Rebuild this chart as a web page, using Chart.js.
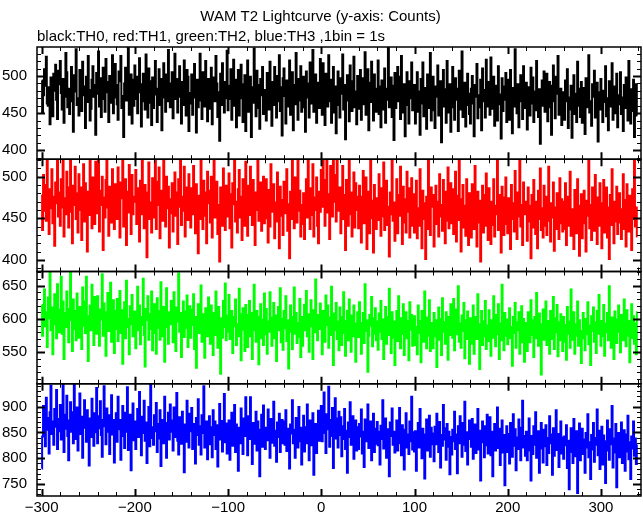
<!DOCTYPE html>
<html>
<head>
<meta charset="utf-8">
<title>WAM T2 Lightcurve</title>
<script src="https://cdn.jsdelivr.net/npm/chart.js@4.4.1/dist/chart.umd.min.js"></script>
<style>
  html, body { margin: 0; padding: 0; background: #fff; }
  #wrap { position: relative; width: 643px; height: 515px; }
</style>
</head>
<body>
<div id="wrap"><canvas id="lc" width="643" height="515"></canvas></div>
<script>
// time axis: 1 bin = 1 s, first bin at -300 s
const tStart = -300;
const binSize = 1;

const xTicks = [-300, -200, -100, 0, 100, 200, 300];
const th0Ticks = [400, 450, 500];
const th1Ticks = [400, 450, 500];
const th2Ticks = [550, 600, 650];
const th3Ticks = [750, 800, 850, 900];

// counts per bin (20 bins per row)
const th0 = [
  494, 451, 474, 509, 487, 526, 463, 460, 485, 435, 498, 491, 446, 503, 480, 515, 468, 442, 507, 489,
  520, 477, 455, 496, 437, 472, 531, 505, 458, 483, 449, 466, 512, 490, 425, 501, 479, 536, 461, 470,
  447, 508, 492, 453, 519, 486, 474, 430, 499, 465, 527, 481, 440, 456, 495, 513, 472, 488, 421, 504,
  476, 533, 459, 497, 445, 469, 511, 484, 452, 523, 478, 492, 438, 500, 464, 483, 528, 450, 471, 516,
  488, 462, 441, 506, 493, 527, 457, 473, 418, 490, 511, 467, 482, 539, 448, 475, 502, 436, 495, 460,
  514, 469, 499, 450, 478, 524, 489, 432, 466, 503, 476, 455, 529, 485, 444, 510, 493, 464, 434, 498,
  457, 491, 520, 475, 438, 483, 509, 461, 496, 427, 471, 517, 488, 452, 502, 466, 535, 480, 458, 490,
  505, 443, 479, 530, 469, 496, 451, 487, 513, 472, 436, 492, 461, 521, 484, 447, 508, 499, 426, 477,
  463, 502, 448, 489, 516, 471, 424, 495, 458, 481, 530, 467, 442, 505, 486, 459, 520, 474, 439, 496,
  482, 456, 511, 435, 473, 498, 466, 527, 490, 445, 478, 413, 503, 461, 517, 484, 451, 492, 470, 534,
  454, 487, 469, 509, 441, 476, 522, 460, 495, 431, 483, 508, 447, 470, 515, 489, 438, 463, 501, 426,
  493, 521, 452, 478, 499, 418, 485, 464, 537, 472, 446, 507, 488, 457, 429, 496, 474, 512, 449, 481,
  468, 440, 504, 487, 455, 519, 476, 433, 492, 461, 512, 479, 444, 500, 466, 528, 453, 485, 420, 497,
  510, 473, 436, 494, 482, 459, 521, 448, 470, 505, 427, 488, 462, 531, 475, 441, 496, 467, 513, 452,
  480, 499, 458, 425, 506, 471, 490, 444, 518, 463, 484, 535, 452, 476, 502, 437, 469, 491, 457, 523,
  490, 448, 517, 472, 434, 503, 481, 459, 528, 466, 495, 437, 478, 512, 451, 486, 423, 470, 506, 461,
  444, 497, 476, 529, 455, 488, 415, 467, 501, 482, 439, 514, 470, 453, 493, 526, 458, 479, 435, 500,
  485, 456, 508, 441, 472, 497, 462, 532, 448, 479, 509, 427, 491, 465, 519, 474, 440, 502, 483, 452,
  470, 521, 449, 486, 431, 494, 476, 455, 510, 437, 483, 468, 539, 458, 473, 498, 445, 487, 414, 504,
  457, 482, 512, 466, 499, 442, 527, 478, 451, 489, 419, 476, 505, 461, 436, 493, 470, 518, 454, 480,
  488, 436, 471, 505, 452, 479, 421, 496, 463, 518, 446, 484, 469, 429, 502, 457, 477, 531, 440, 465,
  499, 454, 430, 486, 472, 514, 447, 462, 493, 411, 476, 508, 459, 482, 437, 520, 466, 451, 489, 425,
  474, 512, 458, 441, 497, 468, 483, 426, 507, 455, 479, 533, 445, 470, 491, 432, 461, 503, 476, 449,
  436, 483, 500, 463, 419, 488, 472, 516, 443, 474, 458, 495, 427, 510, 466, 481, 444, 522, 459, 492,
  481, 448, 525, 470, 456, 499, 433, 466, 487, 440, 513, 462, 475, 416, 497, 453, 486, 468, 504, 438,
  462, 495, 441, 508, 477, 423, 484, 459, 536, 471, 450, 489, 431, 466, 501, 480, 442, 513, 457, 475,
  491, 428, 469, 485, 447, 511, 463, 498, 438, 479, 454, 520, 472, 445, 482, 409, 467, 494, 460, 506,
  452, 477, 503, 439, 468, 492, 458, 421, 487, 514, 466, 443, 499, 476, 527, 448, 461, 483, 434, 470,
  478, 441, 494, 466, 509, 430, 471, 455, 487, 417, 462, 501, 449, 476, 438, 519, 460, 483, 445, 492,
  437, 469, 484, 422, 497, 458, 476, 528, 451, 466, 433, 489, 472, 507, 444, 461, 491, 412, 478, 455,
  496, 457, 438, 480, 465, 513, 446, 470, 427, 493, 459, 482, 517, 441, 468, 486, 450, 503, 431, 474,
  462, 505, 449, 471, 426, 488, 457, 498, 475, 440, 520, 464, 436, 482, 453, 495, 418, 468, 489, 447
];

const th1 = [
  478, 436, 502, 459, 490, 447, 523, 470, 431, 485, 462, 509, 444, 476, 417, 493, 468, 530, 452, 481,
  441, 497, 463, 519, 428, 474, 455, 506, 487, 439, 471, 536, 458, 420, 489, 466, 512, 449, 480, 433,
  503, 460, 487, 424, 472, 515, 446, 492, 468, 410, 482, 454, 527, 477, 438, 499, 461, 443, 518, 469,
  456, 521, 434, 483, 466, 500, 412, 475, 451, 496, 538, 463, 429, 488, 470, 445, 509, 478, 437, 491,
  484, 449, 511, 468, 427, 493, 474, 532, 440, 461, 497, 418, 482, 457, 514, 466, 431, 502, 455, 476,
  470, 508, 443, 486, 461, 422, 495, 455, 526, 474, 438, 490, 465, 403, 481, 517, 449, 469, 433, 498,
  451, 477, 529, 437, 494, 466, 511, 426, 458, 483, 447, 519, 471, 440, 500, 462, 488, 415, 473, 456,
  492, 434, 468, 505, 453, 481, 419, 497, 464, 535, 442, 476, 459, 512, 428, 487, 470, 448, 503, 461,
  439, 486, 455, 513, 470, 432, 491, 462, 408, 477, 449, 523, 466, 437, 495, 453, 481, 420, 506, 468,
  483, 445, 500, 427, 462, 519, 451, 474, 494, 431, 466, 398, 487, 458, 441, 510, 472, 436, 489, 452,
  461, 504, 438, 479, 415, 492, 467, 527, 446, 470, 433, 485, 508, 451, 476, 424, 497, 459, 441, 518,
  476, 429, 489, 454, 512, 466, 442, 496, 470, 418, 481, 460, 535, 447, 472, 493, 435, 457, 500, 444,
  450, 497, 463, 421, 484, 440, 515, 474, 458, 491, 426, 469, 446, 505, 480, 414, 488, 453, 472, 430,
  494, 456, 477, 509, 435, 467, 402, 482, 449, 520, 461, 438, 499, 473, 445, 527, 459, 483, 428, 466,
  443, 480, 425, 462, 497, 451, 531, 469, 437, 486, 454, 515, 428, 475, 460, 499, 441, 420, 482, 458,
  508, 464, 528, 483, 441, 496, 537, 457, 479, 425, 513, 488, 452, 531, 470, 502, 446, 522, 476, 459,
  487, 432, 470, 513, 449, 478, 412, 496, 463, 441, 524, 455, 481, 428, 467, 505, 439, 492, 460, 476,
  438, 489, 455, 421, 476, 507, 444, 466, 499, 413, 461, 482, 432, 519, 450, 471, 409, 490, 458, 437,
  474, 448, 503, 461, 429, 486, 452, 517, 436, 470, 495, 442, 464, 404, 481, 455, 526, 447, 469, 423,
  460, 497, 432, 478, 453, 512, 467, 419, 488, 445, 473, 433, 506, 458, 486, 427, 463, 498, 441, 479,
  433, 471, 495, 426, 462, 441, 509, 457, 414, 483, 449, 468, 401, 476, 437, 521, 455, 430, 487, 464,
  478, 416, 459, 489, 443, 470, 428, 503, 452, 466, 435, 496, 461, 420, 482, 447, 511, 438, 458, 492,
  444, 485, 431, 467, 506, 422, 477, 448, 524, 456, 410, 473, 490, 439, 465, 429, 497, 452, 418, 480,
  466, 427, 491, 453, 437, 513, 460, 416, 482, 445, 471, 398, 456, 489, 433, 478, 441, 504, 462, 424,
  486, 451, 419, 470, 442, 497, 428, 465, 455, 520, 436, 478, 447, 409, 488, 461, 430, 475, 499, 443,
  432, 474, 457, 413, 490, 449, 468, 434, 507, 461, 425, 481, 452, 529, 440, 466, 418, 493, 455, 470,
  458, 423, 487, 446, 465, 402, 478, 439, 496, 455, 431, 470, 414, 483, 449, 510, 436, 462, 427, 489,
  441, 476, 430, 459, 512, 447, 422, 468, 451, 493, 411, 463, 437, 480, 455, 425, 498, 444, 473, 434,
  470, 437, 492, 418, 455, 476, 441, 506, 429, 461, 448, 413, 484, 452, 432, 497, 465, 405, 447, 479,
  426, 458, 483, 444, 410, 471, 453, 519, 438, 466, 424, 487, 449, 435, 502, 459, 419, 475, 441, 492,
  455, 414, 468, 496, 433, 451, 487, 427, 463, 401, 478, 442, 509, 456, 420, 470, 446, 488, 431, 462,
  480, 445, 425, 461, 503, 437, 472, 416, 491, 452, 434, 477, 458, 412, 485, 449, 526, 440, 463, 428
];

const th2 = [
  621, 575, 598, 644, 589, 610, 558, 632, 601, 669, 583, 617, 547, 605, 637, 592, 571, 652, 614, 580,
  596, 663, 578, 626, 540, 609, 588, 641, 615, 565, 598, 671, 603, 552, 629, 585, 612, 568, 638, 593,
  572, 618, 601, 555, 647, 590, 626, 579, 663, 604, 537, 592, 620, 583, 651, 608, 561, 633, 597, 578,
  634, 586, 560, 614, 599, 667, 575, 623, 591, 545, 610, 639, 582, 603, 654, 566, 596, 628, 549, 612,
  585, 630, 567, 604, 642, 579, 613, 533, 595, 625, 571, 657, 600, 588, 547, 619, 592, 636, 574, 609,
  611, 556, 597, 648, 583, 620, 562, 603, 591, 660, 576, 529, 615, 598, 634, 569, 607, 585, 641, 553,
  579, 622, 601, 548, 631, 587, 612, 569, 655, 594, 574, 618, 536, 603, 646, 588, 563, 610, 592, 627,
  604, 565, 640, 589, 552, 617, 596, 668, 581, 609, 543, 598, 626, 573, 611, 587, 635, 558, 600, 619,
  572, 614, 591, 637, 555, 603, 527, 586, 622, 579, 598, 650, 566, 607, 583, 542, 616, 595, 574, 632,
  599, 563, 620, 584, 546, 609, 576, 641, 593, 557, 618, 590, 518, 601, 572, 627, 588, 653, 568, 605,
  581, 636, 570, 597, 612, 549, 603, 589, 629, 561, 592, 574, 645, 607, 538, 584, 616, 596, 552, 621,
  606, 558, 593, 627, 574, 609, 540, 583, 651, 596, 566, 612, 587, 532, 603, 622, 571, 599, 561, 638,
  577, 615, 548, 596, 581, 640, 602, 560, 589, 624, 571, 605, 537, 592, 618, 583, 646, 565, 600, 554,
  612, 586, 634, 567, 598, 526, 581, 620, 603, 555, 590, 647, 578, 609, 564, 594, 573, 630, 543, 603,
  560, 597, 621, 583, 642, 574, 607, 551, 589, 628, 596, 540, 613, 580, 659, 591, 568, 606, 585, 623,
  598, 547, 612, 580, 566, 635, 591, 620, 557, 602, 576, 648, 589, 531, 608, 583, 624, 570, 596, 553,
  617, 588, 561, 603, 640, 579, 545, 597, 612, 568, 629, 586, 551, 605, 574, 620, 593, 536, 581, 610,
  573, 625, 594, 548, 587, 609, 564, 652, 582, 598, 521, 575, 606, 590, 633, 559, 601, 578, 616, 568,
  596, 554, 608, 581, 627, 570, 599, 540, 585, 618, 563, 603, 576, 645, 588, 549, 610, 572, 596, 531,
  583, 612, 567, 634, 592, 556, 601, 578, 622, 546, 589, 610, 571, 597, 538, 625, 584, 606, 560, 593,
  604, 561, 588, 547, 620, 579, 597, 535, 612, 583, 566, 641, 590, 556, 602, 575, 628, 552, 594, 571,
  556, 609, 574, 598, 528, 585, 617, 569, 600, 546, 631, 581, 595, 563, 610, 587, 539, 603, 576, 622,
  589, 572, 630, 553, 596, 614, 577, 649, 566, 593, 557, 605, 582, 624, 541, 598, 570, 611, 586, 533,
  601, 563, 589, 620, 548, 583, 603, 570, 637, 592, 525, 579, 612, 561, 596, 574, 627, 555, 590, 567,
  613, 581, 545, 598, 572, 634, 586, 559, 606, 577, 622, 540, 593, 568, 651, 584, 553, 609, 575, 599,
  562, 596, 616, 571, 588, 530, 603, 579, 624, 557, 595, 583, 610, 548, 587, 619, 565, 600, 536, 580,
  594, 552, 610, 581, 565, 628, 576, 598, 543, 603, 571, 639, 586, 560, 608, 574, 517, 592, 614, 569,
  583, 626, 561, 597, 577, 548, 612, 589, 570, 633, 555, 601, 580, 621, 544, 595, 568, 607, 587, 552,
  603, 566, 591, 539, 618, 578, 596, 557, 644, 585, 569, 610, 548, 592, 575, 626, 560, 598, 582, 534,
  571, 609, 586, 553, 600, 577, 625, 562, 590, 531, 604, 582, 617, 566, 595, 549, 612, 578, 636, 587,
  560, 597, 574, 621, 545, 593, 580, 609, 568, 649, 586, 557, 602, 573, 540, 611, 590, 564, 599, 620,
  581, 550, 606, 583, 568, 629, 592, 559, 613, 575, 597, 535, 588, 622, 571, 604, 563, 593, 547, 610
];

const th3 = [
  780, 842, 901, 866, 823, 917, 855, 878, 809, 889, 940, 847, 871, 826, 895, 861, 932, 818, 876, 852,
  903, 836, 869, 948, 812, 884, 857, 921, 843, 796, 873, 908, 851, 889, 829, 944, 866, 837, 898, 815,
  864, 925, 847, 880, 801, 859, 912, 872, 832, 893, 855, 786, 877, 841, 915, 868, 824, 887, 850, 936,
  829, 881, 858, 910, 845, 803, 874, 939, 862, 827, 896, 851, 883, 808, 867, 922, 846, 874, 792, 861,
  887, 832, 919, 856, 874, 797, 843, 901, 869, 820, 888, 851, 937, 816, 863, 884, 777, 852, 906, 835,
  871, 818, 859, 895, 841, 928, 862, 806, 880, 849, 911, 834, 869, 791, 857, 899, 823, 945, 860, 839,
  826, 883, 852, 907, 812, 866, 838, 893, 785, 857, 874, 829, 919, 845, 801, 868, 888, 836, 904, 851,
  873, 815, 898, 841, 862, 926, 834, 807, 879, 853, 828, 890, 846, 773, 865, 832, 911, 857, 821, 886,
  852, 897, 818, 866, 834, 790, 878, 845, 914, 826, 862, 807, 883, 849, 939, 821, 856, 871, 798, 840,
  881, 827, 860, 802, 893, 845, 871, 818, 864, 784, 849, 905, 836, 872, 813, 858, 924, 831, 867, 809,
  835, 873, 797, 856, 888, 824, 847, 903, 812, 865, 840, 776, 859, 829, 896, 851, 808, 877, 843, 918,
  862, 806, 881, 837, 918, 853, 789, 868, 828, 849, 890, 815, 871, 838, 765, 855, 884, 822, 902, 845,
  818, 859, 835, 894, 846, 801, 876, 830, 862, 909, 824, 853, 793, 869, 841, 886, 812, 850, 874, 829,
  871, 826, 893, 814, 857, 836, 780, 865, 848, 912, 829, 855, 801, 878, 842, 821, 899, 833, 859, 788,
  846, 882, 813, 860, 829, 904, 841, 796, 873, 851, 825, 887, 768, 838, 866, 810, 857, 892, 834, 869,
  901, 833, 868, 927, 849, 810, 885, 856, 938, 822, 874, 843, 897, 781, 862, 916, 838, 877, 821, 890,
  845, 879, 804, 862, 837, 895, 818, 853, 772, 869, 841, 908, 826, 857, 881, 799, 848, 873, 815, 860,
  818, 866, 842, 894, 809, 851, 783, 875, 833, 859, 904, 820, 846, 871, 796, 839, 886, 812, 857, 828,
  870, 825, 851, 788, 863, 837, 912, 819, 848, 877, 801, 856, 832, 765, 869, 843, 896, 826, 851, 811,
  839, 873, 815, 852, 897, 829, 806, 864, 842, 778, 855, 887, 821, 846, 808, 871, 833, 919, 817, 850,
  813, 852, 776, 834, 868, 821, 895, 843, 800, 857, 829, 761, 846, 875, 815, 838, 882, 803, 859, 827,
  848, 794, 861, 827, 886, 839, 812, 870, 782, 845, 824, 903, 836, 858, 797, 866, 822, 851, 769, 841,
  807, 855, 833, 890, 818, 846, 771, 862, 829, 881, 840, 803, 868, 826, 909, 814, 850, 788, 837, 873,
  859, 822, 876, 799, 843, 865, 810, 836, 895, 817, 853, 757, 831, 871, 846, 802, 862, 825, 884, 809,
  838, 879, 806, 851, 765, 829, 866, 815, 842, 898, 820, 857, 787, 836, 873, 811, 845, 748, 826, 862,
  812, 847, 790, 868, 831, 803, 885, 824, 856, 777, 840, 818, 875, 833, 796, 859, 911, 821, 843, 805,
  851, 796, 834, 877, 815, 757, 843, 808, 862, 826, 889, 801, 837, 852, 772, 819, 868, 831, 792, 855,
  823, 864, 787, 839, 810, 881, 829, 846, 768, 858, 805, 836, 893, 816, 847, 783, 825, 871, 809, 840,
  799, 842, 825, 864, 781, 834, 740, 812, 858, 823, 791, 876, 829, 804, 852, 733, 818, 867, 796, 839,
  857, 808, 836, 772, 849, 821, 885, 802, 831, 760, 845, 817, 868, 793, 839, 826, 894, 806, 853, 779,
  820, 861, 788, 844, 809, 752, 833, 873, 815, 797, 856, 827, 901, 782, 838, 811, 866, 744, 830, 849,
  802, 837, 869, 791, 825, 854, 776, 846, 813, 882, 798, 831, 760, 842, 819, 871, 805, 838, 789, 826
];

const fontFamily = '"Liberation Sans", Arial, Helvetica, sans-serif';
const textFont = { family: fontFamily, size: 15, weight: "normal", lineHeight: 1.2 };

function toPoints(vals) {
  return vals.map((v, i) => ({ x: tStart + i * binSize, y: v }));
}

function series(vals, color, axisId) {
  return {
    data: toPoints(vals),
    yAxisID: axisId,
    borderColor: color,
    borderWidth: 2,
    pointRadius: 0,
    stepped: "middle",
    fill: false,
    clip: 0,
  };
}

function panelAxis(min, max, tickVals) {
  return {
    type: "linear",
    position: "left",
    stack: "panels",
    stackWeight: 1,
    offset: false,
    min: min,
    max: max,
    grid: { display: false, drawTicks: false },
    border: { display: false },
    ticks: { color: "#000", font: textFont, padding: 10, includeBounds: false, autoSkip: false },
    afterBuildTicks: (s) => { s.ticks = tickVals.map((v) => ({ value: v })); },
    afterFit: (s) => { s.width = 37; },
  };
}

// panel frames + inward tick marks like the original plot
const framePlugin = {
  id: "frames",
  afterDatasetsDraw(chart) {
    const ctx = chart.ctx;
    const xs = chart.scales.x;
    ctx.save();
    ctx.strokeStyle = "#000";
    ["y0", "y1", "y2", "y3"].forEach((id) => {
      const ys = chart.scales[id];
      const top = ys.top, bottom = ys.bottom, left = xs.left, right = xs.right;
      for (let v = -300; v <= xs.max; v += 20) {
        const major = v % 100 === 0;
        const px = Math.round(xs.getPixelForValue(v)) + 0.5;
        const len = major ? 7 : 4;
        ctx.lineWidth = major ? 2 : 1;
        ctx.beginPath();
        ctx.moveTo(px, top); ctx.lineTo(px, top + len);
        ctx.moveTo(px, bottom); ctx.lineTo(px, bottom - len);
        ctx.stroke();
      }
      for (let v = Math.ceil(ys.min / 10) * 10; v <= ys.max; v += 10) {
        const major = v % 50 === 0;
        const py = Math.round(ys.getPixelForValue(v)) + 0.5;
        const len = major ? 8 : 4;
        ctx.lineWidth = major ? 2 : 1;
        ctx.beginPath();
        ctx.moveTo(left, py); ctx.lineTo(left + len, py);
        ctx.moveTo(right, py); ctx.lineTo(right - len, py);
        ctx.stroke();
      }
      ctx.lineWidth = 1.5;
      ctx.strokeRect(left, top, right - left, bottom - top);
    });
    ctx.restore();
  },
};

const ctx = document.getElementById("lc").getContext("2d");

const lcChart = new Chart(ctx, {
  type: "line",
  data: {
    datasets: [
      series(th0, "#000000", "y0"),
      series(th1, "#ff0000", "y1"),
      series(th2, "#00ff00", "y2"),
      series(th3, "#0000ff", "y3"),
    ],
  },
  options: {
    responsive: false,
    devicePixelRatio: 1,
    animation: false,
    events: [],
    layout: { padding: { left: 0, right: 2, top: 0, bottom: 0 } },
    scales: {
      x: {
        type: "linear",
        position: "bottom",
        min: -305,
        max: 343,
        grid: { display: false, drawTicks: false },
        border: { display: false },
        ticks: {
          color: "#000",
          font: textFont,
          padding: 3,
          maxRotation: 0,
          autoSkip: false,
          includeBounds: false,
          callback: (v) => (v < 0 ? "\u2212" + Math.abs(v) : String(v)),
        },
        afterBuildTicks: (s) => { s.ticks = xTicks.map((v) => ({ value: v })); },
        afterFit: (s) => { s.height = 19; },
      },
      // stacked panels: last one listed ends up on top
      y3: panelAxis(727, 944, th3Ticks),
      y2: panelAxis(503, 671, th2Ticks),
      y1: panelAxis(386, 521, th1Ticks),
      y0: panelAxis(388, 539, th0Ticks),
    },
    plugins: {
      legend: { display: false },
      tooltip: { enabled: false },
      title: {
        display: true,
        text: "WAM T2 Lightcurve (y-axis: Counts)",
        color: "#000",
        font: textFont,
        padding: { top: 8, bottom: 0 },
      },
      subtitle: {
        display: true,
        text: "black:TH0, red:TH1, green:TH2, blue:TH3 ,1bin = 1s",
        align: "start",
        fullSize: false,
        color: "#000",
        font: textFont,
        padding: { top: 1.5, bottom: 1.5 },
      },
    },
  },
  plugins: [framePlugin],
});
</script>
</body>
</html>
